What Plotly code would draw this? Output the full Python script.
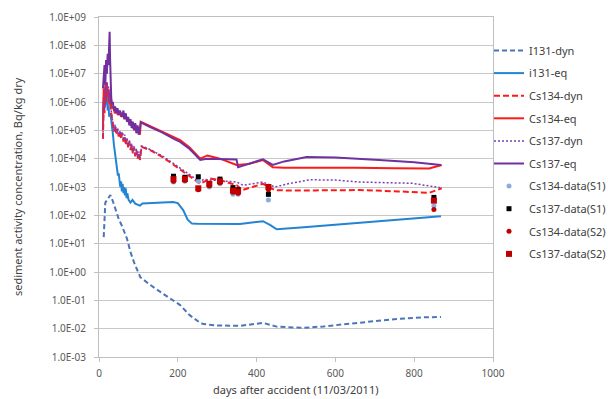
import plotly.graph_objects as go

# ---------------- data ----------------
i131_dyn_days = [12, 14, 16, 20, 24, 29, 35, 42, 50, 59, 71, 80, 90, 105, 130, 160, 189, 206, 230, 257, 265, 300, 358, 400, 416, 451, 517, 570, 628, 700, 755, 820, 868]
i131_dyn_vals = [17, 120, 280, 340, 420, 520, 320, 150, 75, 40, 15, 5, 2, 0.65, 0.35, 0.18, 0.1, 0.068, 0.03, 0.016, 0.0145, 0.013, 0.0126, 0.015, 0.016, 0.0118, 0.0107, 0.012, 0.0145, 0.018, 0.022, 0.025, 0.026]

i131_eq_days = [10, 12, 14, 16, 18, 20, 22, 24, 26, 28, 30, 32, 35, 38, 42, 45, 48, 50, 52, 54, 56, 58, 60, 62, 64, 66, 68, 70, 72, 75, 80, 85, 92, 100, 104, 110, 130, 160, 188, 200, 214, 225, 236, 250, 300, 358, 400, 416, 435, 451, 520, 628, 750, 868]
i131_eq_vals = [3e5, 1.5e6, 6e5, 2e6, 8e5, 1.5e6, 5e5, 8e5, 3e5, 4e5, 3e5, 2e5, 8e4, 3e4, 9e3, 5e3, 2.5e3, 3e3, 1.5e3, 1e3, 1.6e3, 7e2, 1.3e3, 6e2, 1e3, 5e2, 9e2, 4e2, 6e2, 3.5e2, 2.8e2, 3.5e2, 2.6e2, 2.4e2, 2.2e2, 2.6e2, 2.7e2, 2.8e2, 2.95e2, 2.7e2, 1.5e2, 70, 51, 50, 49, 49, 58, 62, 45, 32, 38, 51, 70, 93]

cs134_dyn_days = [10, 12, 14, 16, 18, 20, 22, 24, 26, 28, 30, 32, 35, 38, 41, 44, 47, 50, 53, 56, 59, 62, 65, 68, 71, 74, 77, 80, 83, 86, 89, 92, 95, 98, 101, 104, 108, 130, 163, 190, 223, 257, 270, 282, 310, 350, 363, 390, 416, 446, 480, 550, 661, 760, 838, 870]
cs134_dyn_vals = [5e4, 1e6, 4e5, 3e6, 1e6, 4e6, 1.5e6, 3e6, 8e5, 2e6, 5e5, 3e5, 1.2e5, 9e4, 1.5e5, 7e4, 1.1e5, 6e4, 9e4, 5e4, 8e4, 4e4, 6e4, 3e4, 5e4, 2.5e4, 4e4, 2e4, 3e4, 1.5e4, 2.5e4, 1.2e4, 2e4, 1e4, 1.6e4, 9e3, 2.6e4, 2e4, 1.1e4, 6e3, 3e3, 1.3e3, 1.6e3, 2e3, 1.7e3, 1.15e3, 7.7e2, 1e3, 1.3e3, 7.8e2, 7.5e2, 7.6e2, 7.8e2, 7e2, 6.2e2, 9e2]

cs134_eq_days = [10, 12, 14, 16, 18, 20, 22, 24, 26, 28, 30, 33, 36, 40, 44, 48, 52, 56, 60, 64, 68, 72, 76, 80, 84, 88, 92, 96, 100, 104, 106, 130, 160, 190, 206, 230, 257, 275, 307, 349, 380, 416, 441, 470, 543, 650, 750, 838, 870]
cs134_eq_vals = [1e5, 3e6, 1e6, 4e6, 2e6, 5e6, 1.5e6, 3e6, 1e6, 2e6, 8e5, 6e5, 7e5, 4e5, 5e5, 3.5e5, 4.5e5, 3e5, 4e5, 2.5e5, 3.5e5, 2e5, 2.5e5, 1.5e5, 2e5, 1.1e5, 1.6e5, 8e4, 1.3e5, 7e4, 2e5, 1.4e5, 9e4, 5.5e4, 4.5e4, 2.5e4, 1e4, 1.3e4, 1e4, 6e3, 6.5e3, 9e3, 5e3, 4.8e3, 4.9e3, 4.8e3, 4.6e3, 4.5e3, 6e3]

cs137_dyn_days = [10, 12, 14, 16, 18, 20, 22, 24, 26, 28, 30, 32, 35, 38, 41, 44, 47, 50, 53, 56, 59, 62, 65, 68, 71, 74, 77, 80, 83, 86, 89, 92, 95, 98, 101, 104, 108, 130, 163, 190, 223, 257, 265, 300, 350, 366, 390, 416, 446, 480, 535, 600, 661, 730, 795, 868]
cs137_dyn_vals = [6e4, 1.2e6, 5e5, 3.5e6, 1.2e6, 5e6, 2e6, 3.5e6, 1e6, 2.2e6, 6e5, 3.5e5, 1.4e5, 1e5, 1.6e5, 8e4, 1.2e5, 7e4, 1e5, 6e4, 9e4, 4.5e4, 7e4, 3.5e4, 5.5e4, 3e4, 4.5e4, 2.2e4, 3.5e4, 1.7e4, 2.8e4, 1.3e4, 2.2e4, 1.1e4, 1.8e4, 1e4, 2.8e4, 2.1e4, 1.2e4, 6.5e3, 3.2e3, 1.5e3, 1.85e3, 1.7e3, 1.5e3, 1.15e3, 1.3e3, 1.5e3, 1e3, 1.3e3, 1.8e3, 1.75e3, 1.5e3, 1.45e3, 1.35e3, 9.4e2]

cs137_eq_days = [10, 12, 14, 16, 18, 20, 22, 24, 26, 27, 28, 29, 31, 33, 35, 38, 41, 44, 47, 50, 53, 56, 59, 62, 65, 68, 71, 74, 77, 80, 83, 86, 89, 92, 95, 98, 101, 104, 106, 130, 160, 190, 206, 230, 257, 274, 307, 349, 353, 380, 416, 441, 470, 527, 600, 711, 800, 868]
cs137_eq_vals = [3e6, 8e6, 2e7, 4e6, 3e7, 1e7, 5e7, 2e7, 8e7, 3e8, 4e7, 6e6, 1.5e6, 8e5, 1e6, 5e5, 7e5, 4e5, 6e5, 3.5e5, 5e5, 4e5, 3e5, 5e5, 2.5e5, 4e5, 2e5, 3e5, 1.5e5, 2.5e5, 1.2e5, 2e5, 1e5, 1.8e5, 8e4, 1.5e5, 7e4, 1.2e5, 1.9e5, 1.3e5, 8.5e4, 5e4, 3.9e4, 2.2e4, 9e3, 1e4, 9.5e3, 9.3e3, 5e3, 6.5e3, 9.5e3, 6e3, 8e3, 1.15e4, 1.1e4, 9e3, 7.5e3, 6e3]

data_days = [189, 218, 252, 280, 307, 340, 353, 430, 850]
cs134_s1 = [1.5e3, 1.6e3, 1.6e3, 1.0e3, 1.3e3, 5.5e2, 5.5e2, 3.5e2, 2.2e2]
cs137_s1 = [2.4e3, 2.2e3, 2.3e3, 1.2e3, 1.9e3, 9.5e2, 8e2, 5.5e2, 4.3e2]
cs134_s2 = [1.6e3, 1.7e3, 8e2, 1.1e3, 1.4e3, 6.5e2, 6e2, 8e2, 1.6e2]
cs137_s2 = [1.9e3, 1.9e3, 9e2, 1.3e3, 1.6e3, 7.5e2, 7e2, 1.0e3, 3.3e2]

y_tick_vals = [1e-3, 1e-2, 1e-1, 1e0, 1e1, 1e2, 1e3, 1e4, 1e5, 1e6, 1e7, 1e8, 1e9]
y_tick_text = ["1.0E-03", "1.0E-02", "1.0E-01", "1.0E+00", "1.0E+01", "1.0E+02", "1.0E+03",
               "1.0E+04", "1.0E+05", "1.0E+06", "1.0E+07", "1.0E+08", "1.0E+09"]
x_tick_vals = [0, 200, 400, 600, 800, 1000]

x_title = "days after accident (11/03/2011)"
y_title = "sediment activity concentration, Bq/kg dry"

# ---------------- figure ----------------
fig = go.Figure()

def line(x, y, name, color, dash, width):
    fig.add_trace(go.Scatter(x=x, y=y, mode="lines", name=name, legendgroup=name,
                             line=dict(color=color, dash=dash, width=width)))

def pts(x, y, name, color, symbol, size):
    fig.add_trace(go.Scatter(x=x, y=y, mode="markers", name=name, legendgroup=name,
                             marker=dict(color=color, symbol=symbol, size=size)))

line(i131_dyn_days, i131_dyn_vals, "I131-dyn", "#4A76B8", "5px,3px", 2)
line(i131_eq_days, i131_eq_vals, "i131-eq", "#2484D4", "solid", 2)
line(cs134_dyn_days, cs134_dyn_vals, "Cs134-dyn", "#FF1A1A", "6px,3px", 2)
line(cs134_eq_days, cs134_eq_vals, "Cs134-eq", "#FF1A1A", "solid", 2)
line(cs137_dyn_days, cs137_dyn_vals, "Cs137-dyn", "#7B3FB5", "2px,2px", 1.5)
line(cs137_eq_days, cs137_eq_vals, "Cs137-eq", "#7030A0", "solid", 2)
pts(data_days, cs134_s1, "Cs134-data(S1)", "#8FAADC", "circle", 5)
pts(data_days, cs137_s1, "Cs137-data(S1)", "#000000", "square", 5)
pts(data_days, cs134_s2, "Cs134-data(S2)", "#C00000", "circle", 5)
pts(data_days, cs137_s2, "Cs137-data(S2)", "#C00000", "square", 6)

axis_font = dict(family="Noto Sans, Open Sans, sans-serif", size=10, color="#595959")
L, R, T, B = 99, 115, 17, 42
PW = 608 - L - R
PH = 399 - T - B

fig.update_layout(
    width=608, height=399,
    margin=dict(l=L, r=R, t=T, b=B, autoexpand=False),
    paper_bgcolor="white", plot_bgcolor="white",
    font=dict(family="Noto Sans, Open Sans, sans-serif", size=11, color="#404040"),
    showlegend=True,
    legend=dict(x=1 - 4 / PW, xanchor="left", y=1 - (36 - T) / PH, yanchor="top",
                font=dict(size=11, color="#404040"), tracegroupgap=3.6,
                bgcolor="rgba(0,0,0,0)", itemwidth=30),
    xaxis=dict(range=[0, 1000], tickvals=x_tick_vals, ticks="outside", ticklen=4,
               tickcolor="#BFBFBF", showgrid=False, showline=True, linecolor="#BFBFBF",
               linewidth=1, mirror=True, zeroline=False, tickfont=axis_font,
               automargin=False, ticklabelstandoff=3),
    yaxis=dict(type="log", range=[-3, 9], tickvals=y_tick_vals, ticktext=y_tick_text,
               ticks="outside", ticklen=4, tickcolor="#BFBFBF", showgrid=True,
               gridcolor="#C8C8C8", gridwidth=1, showline=True, linecolor="#BFBFBF",
               linewidth=1, mirror=True, zeroline=False, tickfont=axis_font,
               automargin=False, ticklabelstandoff=6),
    annotations=[
        dict(text=x_title, xref="paper", yref="paper", x=(296 - L) / PW,
             y=-(389 - (T + PH)) / PH, xanchor="center", yanchor="middle",
             showarrow=False, font=dict(size=11, color="#404040")),
        dict(text=y_title, xref="paper", yref="paper", x=(17 - L) / PW,
             y=0.5, xanchor="center", yanchor="middle", textangle=-90,
             showarrow=False, font=dict(size=11, color="#404040")),
    ],
)

fig.write_html("out.html", config={"displayModeBar": False},
               post_script="document.body.style.margin='0';")
